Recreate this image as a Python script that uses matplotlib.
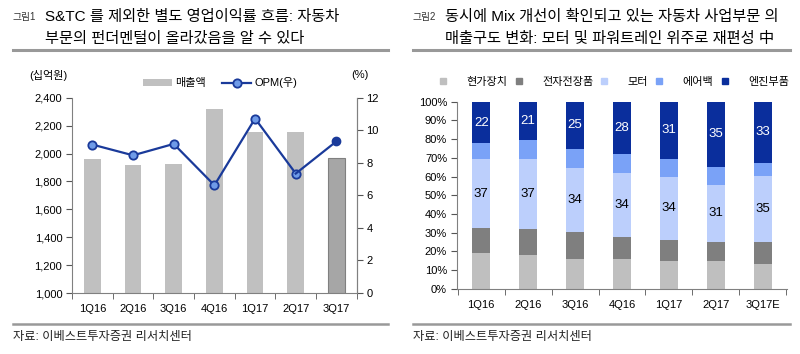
import matplotlib
matplotlib.use("Agg")
import matplotlib.pyplot as plt
import numpy as np
from matplotlib.lines import Line2D
from matplotlib.patches import Patch

plt.rcParams["font.family"] = ["Liberation Sans", "Noto Sans CJK KR"]

# Left chart data
quarters_l = ["1Q16", "2Q16", "3Q16", "4Q16", "1Q17", "2Q17", "3Q17"]
sales = [1962, 1919, 1924, 2317, 2152, 2154, 1967]
opm = [9.12, 8.46, 9.16, 6.62, 10.72, 7.34, 9.32]

# Right chart data (share, %)
quarters_r = ["1Q16", "2Q16", "3Q16", "4Q16", "1Q17", "2Q17", "3Q17E"]
seg_names = ["현가장치", "전자전장품", "모터", "에어백", "엔진부품"]
suspension = [18.9, 18.0, 16.1, 15.7, 15.0, 14.6, 13.0]
electronics = [13.4, 14.0, 14.4, 12.2, 11.1, 10.2, 11.8]
motor = [37.0, 37.4, 34.3, 34.1, 33.7, 30.9, 35.4]
airbag = [8.4, 10.0, 10.2, 10.0, 9.6, 9.5, 7.2]
engine = [22.3, 20.6, 25.0, 28.0, 30.6, 34.8, 32.6]

seg_colors = ["#bfbfbf", "#7f7f7f", "#bccffc", "#7aa2f7", "#0a2e9c"]

fig = plt.figure(figsize=(8, 3.54), dpi=100)

# ---------- left panel ----------
ax = fig.add_axes([0.09, 0.1723, 0.356, 0.5517])
x = np.arange(len(quarters_l))
bar_colors = ["#c0c0c0"] * (len(x) - 1) + ["#a6a6a6"]
edge_colors = ["none"] * (len(x) - 1) + ["#808080"]
ax.bar(x, sales, width=0.41, color=bar_colors, edgecolor=edge_colors,
       linewidth=0.8, bottom=0, zorder=2)
ax.set_ylim(1000, 2400)
ax.set_xlim(-0.5, len(x) - 0.5)
ax.set_yticks(np.arange(1000, 2401, 200))
ax.set_yticklabels([f"{v:,}" for v in range(1000, 2401, 200)])
ax.set_xticks(x)
ax.set_xticklabels(quarters_l)
ax.set_xticks(np.arange(-0.5, len(x)), minor=True)
ax.tick_params(axis="x", which="major", length=0, pad=8, labelsize=8)
ax.tick_params(axis="x", which="minor", length=4, direction="out", color="#555555")
ax.tick_params(axis="y", length=4, direction="out", color="#555555", labelsize=8, pad=3)
ax.spines["top"].set_visible(False)
for s in ["left", "bottom", "right"]:
    ax.spines[s].set_color("#808080")
    ax.spines[s].set_linewidth(0.8)

ax2 = ax.twinx()
ax2.plot(x[:-1], opm[:-1], color="#1a3a9a", lw=1.6, marker="o", ms=6,
         mfc="#6f9be8", mec="#1a3a9a", mew=1.3, zorder=3)
ax2.plot(x[-2:], opm[-2:], color="#1a3a9a", lw=1.6, zorder=3)
ax2.plot(x[-1:], opm[-1:], marker="o", ms=6, mfc="#1a3a9a", mec="#1a3a9a",
         lw=0, zorder=4)
ax2.set_ylim(0, 12)
ax2.set_yticks(range(0, 13, 2))
ax2.tick_params(axis="y", length=4, direction="out", color="#555555", labelsize=8, pad=3)
ax2.spines["top"].set_visible(False)
ax2.spines["right"].set_color("#808080")
ax2.spines["right"].set_linewidth(0.8)
ax2.spines["left"].set_visible(False)
ax2.spines["bottom"].set_visible(False)

fig.text(0.084, 0.788, "(십억원)", ha="right", va="center", fontsize=8)
fig.text(0.45, 0.788, "(%)", ha="center", va="center", fontsize=8)

h_sales = Patch(facecolor="#c0c0c0", edgecolor="none")
h_opm = Line2D([], [], color="#1a3a9a", lw=1.6, marker="o", ms=6,
               mfc="#6f9be8", mec="#1a3a9a", mew=1.3)
fig.legend([h_sales, h_opm], ["매출액", "OPM(우)"], loc="center",
           bbox_to_anchor=(0.275, 0.766), ncol=2, frameon=False, fontsize=8,
           handlelength=2.6, handleheight=0.5, handletextpad=0.3,
           columnspacing=1.5)

# ---------- right panel ----------
axr = fig.add_axes([0.571, 0.1845, 0.413, 0.528])
xr = np.arange(len(quarters_r))
segs = [suspension, electronics, motor, airbag, engine]
bottom = np.zeros(len(xr))
bars = []
for vals, col, name in zip(segs, seg_colors, seg_names):
    b = axr.bar(xr, vals, width=0.39, bottom=bottom, color=col, label=name,
                zorder=2)
    bars.append(b)
    bottom = bottom + np.array(vals)
axr.bar_label(bars[4], labels=[f"{v:.0f}" for v in engine], label_type="center",
              color="white", fontsize=9.5)
axr.bar_label(bars[2], labels=[f"{v:.0f}" for v in motor], label_type="center",
              color="black", fontsize=9.5)
axr.set_ylim(0, 100)
axr.set_xlim(-0.52, len(xr) - 0.48)
axr.set_yticks(range(0, 101, 10))
axr.set_yticklabels([f"{v}%" for v in range(0, 101, 10)])
axr.set_xticks(xr)
axr.set_xticklabels(quarters_r)
axr.set_xticks(np.arange(-0.5, len(xr)), minor=True)
axr.tick_params(axis="x", which="major", length=0, pad=8, labelsize=8)
axr.tick_params(axis="x", which="minor", length=4, direction="out", color="#555555")
axr.tick_params(axis="y", length=4, direction="out", color="#555555", labelsize=8, pad=3)
axr.spines["top"].set_visible(False)
axr.spines["right"].set_visible(False)
for s in ["left", "bottom"]:
    axr.spines[s].set_color("#808080")
    axr.spines[s].set_linewidth(0.8)

handles = [Line2D([], [], lw=0, marker="s", ms=5, mfc=c, mec=c) for c in seg_colors]
fig.legend(handles, seg_names, loc="center", bbox_to_anchor=(0.768, 0.768),
           ncol=5, frameon=False, fontsize=8, handlelength=0.6,
           handletextpad=1.8, columnspacing=0.7)

# ---------- titles, rules, sources ----------
title_l = ["S&TC 를 제외한 별도 영업이익률 흐름: 자동차", "부문의 펀더멘털이 올라갔음을 알 수 있다"]
title_r = ["동시에 Mix 개선이 확인되고 있는 자동차 사업부문 의", "매출구도 변화: 모터 및 파워트레인 위주로 재편성 中"]
source = "자료: 이베스트투자증권 리서치센터"

for x0, tag, lines, x1 in [(0.016, "그림1", title_l, 0.485),
                           (0.516, "그림2", title_r, 0.9875)]:
    fig.text(x0, 0.953, tag, fontsize=7, va="center", ha="left", color="#333333")
    fig.text(x0 + 0.040, 0.953, lines[0], fontsize=11, va="center", ha="left")
    fig.text(x0 + 0.040, 0.89, lines[1], fontsize=11, va="center", ha="left")
    fig.add_artist(Line2D([x0, x1], [0.859, 0.859], color="#999999", lw=2.2))
    fig.add_artist(Line2D([x0, x1], [0.085, 0.085], color="#999999", lw=1.8))
    fig.text(x0, 0.047, source, fontsize=8.8, va="center", ha="left", color="#222222")

fig.savefig("out.png", dpi=100)
